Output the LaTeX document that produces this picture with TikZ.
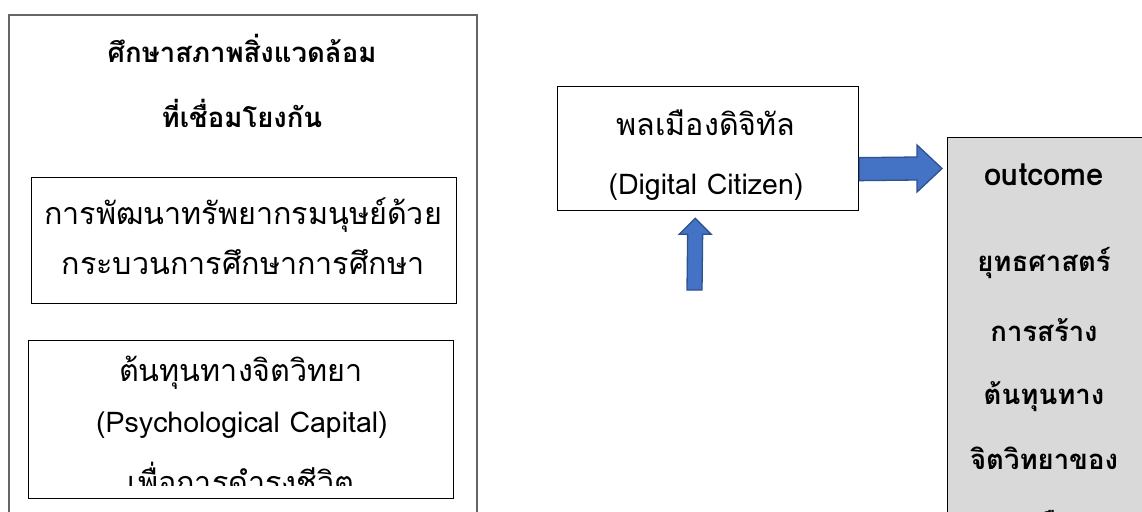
\documentclass[tikz,border=0pt]{standalone}
\usepackage{fontspec}
\newfontfamily\thai[Script=Thai]{Loma}
\usetikzlibrary{calc}
\definecolor{arrowfill}{HTML}{4472C4}
\definecolor{arrowline}{HTML}{2F528F}
\definecolor{outerline}{HTML}{666666}
\definecolor{outfill}{HTML}{D9D9D9}
\tikzset{
  box/.style={draw=black, line width=1.3pt, inner sep=0pt, anchor=north west},
  outerbox/.style={draw=outerline, line width=2pt, inner sep=0pt, anchor=north west},
  resbox/.style={draw=black, line width=1.3pt, fill=outfill, inner sep=0pt, anchor=north west},
  txt/.style={font=\thai\fontsize{30.5}{34}\selectfont, inner sep=0pt},
  ltxt/.style={font=\thai\fontsize{28.5}{32}\selectfont, inner sep=0pt},
  btxt/.style={font=\thai\bfseries\fontsize{27.5}{32}\selectfont, inner sep=0pt},
  bltxt/.style={font=\thai\bfseries\fontsize{31}{34}\selectfont, inner sep=0pt},
  blockarrow/.style={fill=arrowfill, draw=arrowline, line width=1.3pt, line join=miter}
}
\begin{document}
\begin{tikzpicture}[x=1pt,y=-1pt]
\useasboundingbox (0,0) rectangle (1142,511);
\fill[white] (0,0) rectangle (1142,511);
% boxes
\node[outerbox, minimum width=468, minimum height=530] (env) at (8,14) {};
\node[box, minimum width=425, minimum height=126] (hrd) at (31,177) {};
\node[box, minimum width=425, minimum height=158] (psy) at (28,340) {};
\node[box, minimum width=301, minimum height=124] (dig) at (557,86) {};
\node[resbox, minimum width=220, minimum height=420] (out) at (947,137) {};
% texts
\node[btxt] (t1) at (242,48) {ศึกษาสภาพสิ่งแวดล้อม};
\node[btxt] (t2) at (242,113) {ที่เชื่อมโยงกัน};
\node[txt] (h1) at (243,215) {การพัฒนาทรัพยากรมนุษย์ด้วย};
\node[txt] (h2) at (243,262) {กระบวนการศึกษาการศึกษา};
\node[txt] (p1) at (241,373) {ต้นทุนทางจิตวิทยา};
\node[ltxt] (p2) at (242,425) {(Psychological Capital)};
\begin{scope}
\clip (28,340) rectangle (453,485);
\node[txt] (p3) at (241,478) {เพื่อการดำรงชีวิต};
\end{scope}
\node[txt] (d1) at (706,123) {พลเมืองดิจิทัล};
\node[ltxt] (d2) at (706,187) {(Digital Citizen)};
\node[bltxt] (o1) at (1044,175) {outcome};
\node[btxt] (o2) at (1044,263) {ยุทธศาสตร์};
\node[btxt] (o3) at (1044,330) {การสร้าง};
\node[btxt] (o4) at (1044,397) {ต้นทุนทาง};
\node[btxt] (o5) at (1044,458) {จิตวิทยาของ};
\node[btxt] (o6) at (1040,522) {พลเมือง};
% arrows
\coordinate (rs) at ($(dig.east)+(0,20.5)$);
\coordinate (re) at ($(out.north west)+(-5,31.5)$);
\draw[blockarrow] ($(rs)+(0,-11.5)$) -- ($(re)+(-25,-11.5)$) -- ($(re)+(-25,-23.5)$)
  -- (re) -- ($(re)+(-25,23.5)$) -- ($(re)+(-25,11.5)$) -- ($(rs)+(0,11.5)$) -- cycle;
\coordinate (ub) at (694.5,290);
\coordinate (ut) at ($(dig.south)+(-13,7)$);
\draw[blockarrow] ($(ub)+(-7.5,0)$) -- ($(ut)+(-7.5,16)$) -- ($(ut)+(-16,16)$) -- (ut)
  -- ($(ut)+(16,16)$) -- ($(ut)+(7.5,16)$) -- ($(ub)+(7.5,0)$) -- cycle;
\end{tikzpicture}
\end{document}
